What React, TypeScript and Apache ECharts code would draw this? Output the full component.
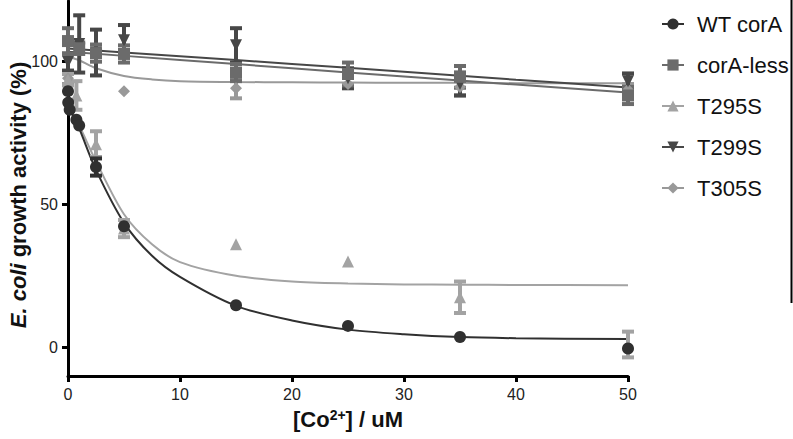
import React, { useEffect, useRef } from "react";
import * as echarts from "echarts";

const FONT = "'Liberation Sans', Arial, Helvetica, sans-serif";

const seriesNames = ["WT corA", "corA-less", "T295S", "T299S", "T305S"];
const seriesColors = ["#303030", "#6b6b6b", "#a3a3a3", "#474747", "#999999"];

// measured points: concentration, mean, error
const wtX = [0, 0.02, 0.15, 0.75, 1, 2.5, 5, 15, 25, 35, 50];
const wtY = [89.5, 85.5, 83, 79.5, 77.5, 63, 42.3, 14.7, 7.5, 3.6, -0.4];
const wtErr = [0, 0, 0, 0, 0, 3, 0, 0, 0, 0, 0];

const lessX = [0, 1, 2.5, 5, 15, 25, 35, 50];
const lessY = [107, 104.5, 102.8, 102.5, 96, 95.5, 94.5, 88];
const lessErr = [4.5, 2, 3, 3, 3, 4, 3.8, 3];

const t295X = [0, 0.75, 2.5, 5, 15, 25, 35, 50];
const t295Y = [93.5, 88, 71, 41.5, 36, 30, 17.5, 1];
const t295Err = [2, 5, 4.5, 3, 0, 0, 5.5, 4.5];

const t299X = [0, 1, 2.5, 5, 15, 25, 35, 50];
const t299Y = [99.7, 106, 103, 107.3, 105.5, 94, 92, 93];
const t299Err = [3, 10, 8, 5.3, 6, 3.5, 4, 2.7];

const t305X = [0, 5, 15, 25, 35, 50];
const t305Y = [94, 89.5, 90.5, 92, 91, 90];
const t305Err = [2, 0, 3.5, 0, 3, 2];

// fitted curves
const curveX = [0, 0.5, 1, 2.5, 5, 7.5, 10, 15, 20, 25, 30, 35, 40, 50];
const wtCurve = [85, 80.5, 76.5, 62, 43.5, 32, 24.6, 14.5, 9.4, 6.2, 4.6, 3.6, 3.2, 2.9];
const t295Curve = [85, 81, 77.5, 65, 46.5, 36, 29.8, 25, 23, 22.3, 22, 21.9, 21.8, 21.7];
const t305Curve = [102, 101, 100.3, 97.5, 94.8, 93.6, 93, 92.7, 92.6, 92.5, 92.4, 92.4, 92.3, 92.3];
const linX = [0, 10, 20, 30, 40, 50];
const lessCurve = [103.3, 100.4, 97.5, 94.6, 91.8, 89];
const t299Curve = [104.4, 101.7, 99, 96.3, 93.5, 90.8];

const yTicks = [0, 50, 100];

const symbols = [
  "circle",
  "rect",
  "triangle",
  "path://M0,0L2,0L1,1.732Z",
  "diamond",
];
const symbolSizes: any[] = [12, 12, 12, 12, [12, 12]];

export default function App() {
  const ref = useRef<HTMLDivElement>(null);
  useEffect(() => {
    if (!ref.current) return;
    const chart = echarts.init(ref.current, null, { renderer: "svg" });

    const pts = [
      [wtX, wtY, wtErr],
      [lessX, lessY, lessErr],
      [t295X, t295Y, t295Err],
      [t299X, t299Y, t299Err],
      [t305X, t305Y, t305Err],
    ];
    const curves = [
      [curveX, wtCurve],
      [linX, lessCurve],
      [curveX, t295Curve],
      [linX, t299Curve],
      [curveX, t305Curve],
    ];

    const series: any[] = [];
    const drawOrder = [4, 3, 2, 1, 0];
    drawOrder.forEach((i) => {
      const [cx, cy] = curves[i] as number[][];
      series.push({
        name: seriesNames[i],
        type: "line",
        data: cx.map((x, k) => [x, cy[k]]),
        smooth: 0.3,
        showSymbol: false,
        symbol: symbols[i],
        symbolSize: symbolSizes[i],
        lineStyle: { color: seriesColors[i], width: 2 },
        itemStyle: { color: seriesColors[i] },
        z: 2,
        silent: true,
      });
    });
    drawOrder.forEach((i) => {
      const [px, py, pe] = pts[i] as number[][];
      const color = seriesColors[i];
      series.push({
        name: seriesNames[i] + " err",
        type: "custom",
        data: px.map((x, k) => [x, py[k], pe[k]]),
        encode: { x: 0, y: 1 },
        z: 3,
        renderItem: (params: any, api: any) => {
          const x = api.value(0);
          const y = api.value(1);
          const e = api.value(2);
          if (!e) return { type: "group", children: [] };
          const top = api.coord([x, y + e]);
          const bot = api.coord([x, y - e]);
          return {
            type: "group",
            children: [
              { type: "rect", shape: { x: top[0] - 2, y: top[1], width: 4, height: bot[1] - top[1] }, style: { fill: color } },
              { type: "rect", shape: { x: top[0] - 6, y: top[1] - 2, width: 12, height: 4 }, style: { fill: color } },
              { type: "rect", shape: { x: bot[0] - 6, y: bot[1] - 2, width: 12, height: 4 }, style: { fill: color } },
            ],
          };
        },
      });
      series.push({
        name: seriesNames[i] + " pts",
        type: "scatter",
        data: px.map((x, k) => [x, py[k]]),
        symbol: symbols[i],
        symbolSize: symbolSizes[i],
        itemStyle: { color, opacity: 1 },
        z: 3,
      });
    });

    chart.setOption({
      animation: false,
      backgroundColor: "#ffffff",
      textStyle: { fontFamily: FONT },
      grid: { left: 68, top: 1, width: 560, height: 375, containLabel: false, outerBoundsMode: "none" },
      legend: {
        data: seriesNames,
        orient: "vertical",
        left: 656,
        top: 8,
        itemWidth: 22,
        itemHeight: 14,
        itemGap: 19,
        textStyle: { fontSize: 22, lineHeight: 22, color: "#111", fontFamily: FONT, padding: [0, 0, 0, 8] },
      },
      xAxis: {
        type: "value",
        min: 0,
        max: 50,
        interval: 10,
        axisLine: { onZero: false, lineStyle: { color: "#000", width: 3 } },
        axisTick: { show: true, length: 6, lineStyle: { color: "#000", width: 3 } },
        axisLabel: { fontSize: 16, color: "#222", margin: 10, fontFamily: FONT },
        splitLine: { show: false },
        name: "{a|[Co}{s|2+}{a|] / uM}",
        nameLocation: "middle",
        nameGap: 32,
        nameTextStyle: {
          rich: {
            a: { fontSize: 22, fontWeight: "bold", color: "#111", fontFamily: FONT },
            s: { fontSize: 14, fontWeight: "bold", color: "#111", fontFamily: FONT, verticalAlign: "top" },
          },
        },
      },
      yAxis: {
        type: "value",
        min: -10,
        max: 121,
        axisLine: { onZero: false, lineStyle: { color: "#000", width: 3 } },
        axisTick: { show: true, length: 6, customValues: yTicks, lineStyle: { color: "#000", width: 3 } },
        axisLabel: { fontSize: 16, color: "#222", margin: 10, customValues: yTicks, fontFamily: FONT },
        splitLine: { show: false },
      },
      graphic: [
        { type: "line", shape: { x1: 791.5, y1: 0, x2: 791.5, y2: 303 }, style: { stroke: "#000", lineWidth: 2 } },
        {
          type: "text",
          x: 18,
          y: 195,
          rotation: Math.PI / 2,
          style: {
            text: "{i|E. coli}{n| growth activity (%)}",
            align: "center",
            verticalAlign: "middle",
            rich: {
              i: { fontSize: 22, fontWeight: "bold", fontStyle: "italic", fill: "#111", fontFamily: FONT },
              n: { fontSize: 22, fontWeight: "bold", fill: "#111", fontFamily: FONT },
            },
          },
        },
      ],
      series,
    });
    return () => chart.dispose();
  }, []);
  return (
    <div
      ref={ref}
      style={{ position: "fixed", left: 0, top: 0, width: 793, height: 439, background: "#fff" }}
    />
  );
}
